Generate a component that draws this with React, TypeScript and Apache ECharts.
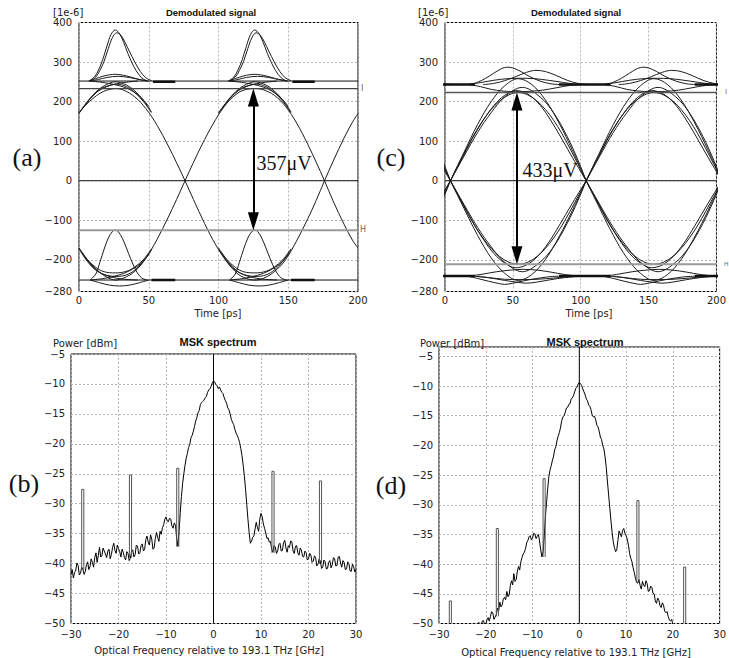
import React, { useEffect, useRef } from "react";
import * as echarts from "echarts";

type Pt = [number, number];

// ================= (a) Demodulated signal, eye diagram [1e-6 V] vs time [ps] =================
const A_SINE_1: Pt[] = [[0,172],[5,192],[10,208],[15,221],[20,229],[26,233],[32,229],[40,212],[48,182],[56,140],[64,88],[70,45],[76,0],[82,-47],[90,-108],[98,-162],[106,-205],[114,-236],[120,-247],[126,-251],[132,-247],[140,-230],[148,-200],[156,-152],[164,-96],[170,-50],[176,0],[182,48],[190,108],[196,148],[200,170]];
const A_SINE_2: Pt[] = [[0,-170],[5,-196],[10,-216],[15,-232],[20,-244],[26,-251],[32,-246],[40,-229],[48,-196],[56,-148],[64,-92],[70,-47],[76,0],[82,46],[90,104],[98,155],[106,196],[114,222],[120,231],[126,233],[132,230],[140,216],[148,188],[156,146],[164,92],[170,47],[176,0],[182,-50],[190,-110],[196,-150],[200,-170]];
// traces repeated in every 100 ps bit slot
const A_PULSE_HI_1: Pt[] = [[7,252],[11,262],[14,280],[17,306],[20,340],[23,370],[26,381],[29,372],[32,350],[35,322],[38,298],[41,278],[45,260],[49,252]];
const A_PULSE_HI_2: Pt[] = [[8,252],[12,262],[15,279],[18,302],[21,334],[24,362],[27,374],[30,368],[33,350],[36,328],[40,300],[44,276],[48,260],[52,253]];
const A_BUMP_HI_1: Pt[] = [[7,252],[12,258],[18,265],[26,269],[34,265],[41,258],[49,252]];
const A_BUMP_HI_2: Pt[] = [[8,252],[14,256],[20,261],[28,264],[36,261],[43,256],[50,252]];
const A_ARC_HI_1: Pt[] = [[0,170],[6,200],[12,224],[18,240],[26,250],[34,242],[40,227],[46,204],[52,174]];
const A_ARC_HI_2: Pt[] = [[2,180],[8,207],[14,228],[20,239],[27,244],[34,238],[40,223],[46,201],[52,172]];
const A_CROSS_HI_1: Pt[] = [[8,252],[18,248],[28,241],[36,231],[44,212],[50,188]];
const A_CROSS_HI_2: Pt[] = [[0,172],[6,199],[12,222],[20,238],[30,247],[42,252]];
const A_PULSE_LO: Pt[] = [[8,-251],[12,-236],[15,-206],[18,-173],[21,-145],[24,-128],[26,-125],[28,-128],[31,-145],[34,-170],[37,-197],[41,-228],[45,-246],[49,-251]];
const A_DIP_LO: Pt[] = [[8,-251],[15,-258],[22,-264],[29,-266],[36,-264],[43,-258],[50,-251]];
const A_ARC_LO_1: Pt[] = [[0,-170],[6,-199],[12,-219],[18,-230],[26,-233],[34,-229],[40,-218],[46,-200],[52,-172]];
const A_ARC_LO_2: Pt[] = [[2,-182],[8,-210],[14,-230],[20,-239],[27,-242],[34,-238],[40,-226],[46,-204],[52,-175]];
const A_CROSS_LO_1: Pt[] = [[8,-251],[18,-247],[28,-239],[36,-228],[44,-210],[50,-186]];
const A_CROSS_LO_2: Pt[] = [[0,-172],[6,-204],[12,-226],[20,-240],[30,-248],[42,-251]];
const A_DASH_HI: Pt[] = [[53,250],[69,250]];
const A_DASH_LO: Pt[] = [[52,-251],[69,-251]];
const A_SLOT_SHIFTS = [0, 100];
const A_LEVEL_HIGH = 252;
const A_LEVEL_I = 233;
const A_LEVEL_ZERO = 0;
const A_LEVEL_H = -125;
const A_LEVEL_LOW = -251;
const A_ARROW_T = 125;

// ================= (c) Demodulated signal, eye diagram =================
const C_ARC_P1: Pt[] = [[4,0],[10,42],[16,82],[22,120],[28,153],[34,180],[40,201],[47,217],[54,223],[61,217],[68,201],[74,180],[80,153],[86,120],[92,82],[98,42],[104,0]];
const C_ARC_P2: Pt[] = [[4,0],[12,52],[20,106],[28,152],[36,190],[44,216],[52,228],[60,221],[68,199],[76,163],[84,118],[94,58],[104,0]];
const C_ARC_P3: Pt[] = [[4,0],[14,72],[24,142],[34,200],[44,240],[54,258],[64,243],[74,204],[84,146],[94,76],[104,0]];
const C_ARC_P4: Pt[] = [[4,0],[14,62],[24,122],[34,172],[44,212],[57,236],[70,212],[80,172],[90,112],[98,52],[104,0]];
const C_ARC_N1: Pt[] = [[4,0],[10,-40],[16,-78],[22,-114],[28,-145],[34,-171],[40,-191],[47,-206],[54,-211],[61,-206],[68,-191],[74,-171],[80,-145],[86,-114],[92,-78],[98,-40],[104,0]];
const C_ARC_N2: Pt[] = [[4,0],[12,-50],[20,-102],[28,-147],[36,-184],[44,-208],[52,-220],[60,-213],[68,-192],[76,-158],[84,-114],[94,-56],[104,0]];
const C_ARC_N3: Pt[] = [[4,0],[14,-70],[24,-138],[34,-195],[44,-234],[54,-252],[64,-237],[74,-199],[84,-142],[94,-74],[104,0]];
const C_ARC_N4: Pt[] = [[4,0],[14,-60],[24,-118],[34,-167],[44,-206],[57,-230],[70,-206],[80,-167],[90,-108],[98,-50],[104,0]];
const C_HUMP_HI_1: Pt[] = [[18,243],[24,249],[30,259],[36,272],[42,284],[46,287],[50,285],[56,276],[62,264],[70,252],[78,245],[86,243]];
const C_HUMP_HI_2: Pt[] = [[28,243],[36,246],[44,253],[52,263],[60,274],[67,279],[74,276],[82,266],[90,254],[98,246],[106,243]];
const C_FLAT_HI: Pt[] = [[16,243],[26,248],[36,254],[46,258],[56,259],[66,258],[76,254],[86,249],[96,244]];
const C_DIP_HI: Pt[] = [[18,243],[26,238],[34,231],[42,227],[52,225],[62,226],[72,229],[82,235],[92,241],[100,243]];
const C_DIP_LO_1: Pt[] = [[16,-241],[24,-247],[32,-254],[40,-260],[44,-262],[50,-259],[58,-253],[66,-248],[76,-243],[86,-241]];
const C_DIP_LO_2: Pt[] = [[24,-241],[34,-246],[44,-252],[52,-256],[60,-259],[68,-256],[78,-250],[88,-245],[100,-241]];
const C_FLAT_LO: Pt[] = [[20,-241],[32,-245],[44,-249],[56,-250],[68,-249],[80,-246],[94,-241]];
const C_RISE_LO: Pt[] = [[18,-241],[28,-236],[38,-230],[48,-226],[58,-224],[68,-226],[78,-231],[88,-237],[98,-241]];
const C_LEVEL_SEG_HI: Pt[] = [[-16,243],[22,243]];
const C_LEVEL_SEG_LO: Pt[] = [[-16,-241],[22,-241]];
const C_SLOT_SHIFTS = [-100, 0, 100];
const C_SEG_SHIFTS = [0, 100, 200];
const C_LEVEL_I = 223;
const C_LEVEL_ZERO = 0;
const C_LEVEL_H = -211;
const C_ARROW_T = 53;

// ================= (b) MSK spectrum [dBm] vs frequency offset [GHz], 0.25 GHz bins =================
const B_FREQ_START = -30;
const B_FREQ_STEP = 0.25;
const B_POWER = [
  -41.8,-41.0,-42.4,-41.5,-41.1,-39.9,-40.3,-41.9,-41.6,-40.6,
  -40.9,-41.8,-41.3,-40.2,-39.7,-41.0,-40.5,-39.2,-39.8,-40.6,
  -39.0,-38.2,-39.8,-38.6,-37.3,-38.9,-38.7,-37.4,-37.9,-38.4,
  -39.0,-37.9,-37.6,-39.2,-38.5,-37.3,-36.6,-37.8,-38.3,-36.9,
  -37.5,-38.0,-38.9,-37.6,-38.1,-39.0,-39.4,-38.0,-38.3,-39.5,
  -39.1,-38.0,-37.7,-38.9,-38.5,-36.9,-37.1,-38.4,-38.2,-37.0,
  -36.7,-37.9,-37.6,-36.0,-35.4,-36.4,-36.9,-35.2,-35.9,-37.6,
  -37.4,-35.8,-34.8,-35.6,-36.3,-34.6,-35.1,-34.0,-33.5,-32.6,
  -32.2,-32.9,-33.0,-32.4,-32.6,-33.7,-34.1,-33.2,-33.6,-35.8,
  -37.1,-34.6,-31.5,-28.8,-26.6,-25.0,-23.6,-22.4,-21.6,-20.6,
  -20.1,-19.0,-18.6,-17.9,-17.1,-16.2,-15.6,-14.8,-14.4,-13.4,
  -13.1,-12.9,-12.7,-12.3,-12.1,-11.4,-11.0,-10.8,-10.4,-9.8,
  -9.5,-9.7,-10.1,-10.3,-10.8,-10.5,-11.0,-11.4,-11.6,-12.3,
  -12.8,-13.2,-14.0,-14.3,-15.0,-15.9,-16.4,-16.8,-17.6,-18.2,
  -18.6,-19.1,-19.8,-20.8,-22.0,-23.6,-25.4,-27.6,-30.1,-32.6,
  -34.8,-36.6,-36.3,-35.6,-35.4,-34.2,-33.1,-34.0,-34.6,-32.5,
  -31.6,-32.2,-33.4,-34.1,-34.9,-35.8,-35.7,-36.4,-36.3,-37.6,
  -38.1,-37.0,-37.2,-38.3,-37.9,-36.8,-36.6,-37.9,-37.8,-36.5,
  -36.1,-37.4,-38.1,-37.0,-37.3,-36.2,-36.4,-37.9,-38.3,-37.1,
  -37.0,-38.2,-38.6,-37.4,-37.7,-38.8,-38.9,-37.9,-38.2,-39.4,
  -39.2,-38.3,-38.6,-39.8,-39.6,-38.7,-39.0,-40.4,-40.1,-39.2,
  -39.6,-40.8,-40.6,-39.4,-39.7,-40.9,-40.8,-39.8,-39.5,-40.7,
  -40.2,-39.0,-39.2,-40.4,-40.3,-38.9,-38.8,-39.9,-40.6,-39.5,
  -39.8,-41.0,-40.9,-39.7,-40.0,-41.2,-41.3,-40.1,-40.5,-41.4,
  -41.0,
];
// tones: [left GHz, right GHz, top dBm, base dBm]
const B_TONES: [number, number, number, number][] = [
  [-27.75, -27.3, -27.6, -41.0],
  [-17.7, -17.25, -25.2, -39.0],
  [-7.75, -7.3, -24.1, -37.2],
  [12.3, 12.75, -24.6, -38.2],
  [22.3, 22.75, -26.2, -40.0],
];

// ================= (d) MSK spectrum, 0.25 GHz bins =================
const D_FREQ_START = -22;
const D_FREQ_STEP = 0.25;
const D_POWER = [
  -51.0,-50.4,-49.8,-50.5,-50.3,-49.6,-49.5,-50.2,-50.1,-49.4,
  -49.0,-49.6,-48.8,-48.0,-48.2,-49.3,-48.9,-48.5,-47.4,-47.9,
  -46.4,-47.2,-46.9,-45.9,-45.6,-46.0,-44.6,-45.5,-45.2,-43.6,
  -42.8,-43.5,-41.6,-42.9,-42.6,-41.2,-40.4,-41.0,-39.6,-38.9,
  -38.3,-38.0,-37.4,-36.4,-36.0,-35.4,-35.2,-35.9,-35.6,-34.8,
  -34.9,-35.7,-35.3,-35.0,-36.1,-37.6,-38.8,-37.9,-35.4,-32.0,
  -29.6,-27.2,-25.2,-24.1,-23.4,-22.5,-21.8,-20.7,-20.2,-19.1,
  -18.4,-17.8,-16.9,-15.8,-15.2,-15.0,-14.4,-13.7,-13.6,-13.1,
  -13.0,-12.2,-12.0,-11.6,-11.0,-10.4,-10.2,-9.7,-9.4,-9.6,
  -9.9,-10.5,-11.0,-11.5,-12.2,-12.5,-13.2,-13.4,-14.0,-14.9,
  -15.2,-15.1,-15.7,-16.6,-16.9,-17.6,-18.6,-19.0,-20.0,-20.6,
  -21.9,-23.6,-26.0,-28.2,-30.4,-32.6,-34.6,-36.2,-37.2,-37.9,
  -37.6,-36.0,-34.4,-34.9,-35.4,-34.3,-34.0,-34.8,-35.2,-35.8,
  -36.8,-38.2,-39.0,-39.6,-40.6,-41.4,-42.4,-43.1,-43.2,-42.6,
  -43.6,-44.2,-42.9,-43.5,-43.8,-42.8,-43.3,-44.6,-44.5,-43.7,
  -43.9,-44.9,-45.0,-46.2,-46.6,-45.7,-46.1,-47.0,-47.3,-46.5,
  -46.9,-47.9,-48.2,-48.0,-48.8,-49.4,-49.6,-49.3,-50.2,-50.8,
  -51.4,
];
const D_TONES: [number, number, number, number][] = [
  [-27.8, -27.35, -46.2, -50],
  [-17.75, -17.3, -34.0, -48.8],
  [-7.75, -7.3, -25.6, -38.8],
  [12.3, 12.75, -29.3, -43.0],
  [22.3, 22.75, -40.5, -50],
];

// axis ranges / ticks
const EYE_X_TICKS = { min: 0, max: 200, interval: 50 };
const EYE_Y_RANGE = { min: -280, max: 400 };
const SPEC_X_TICKS = { min: -30, max: 30, interval: 10 };
const SPEC_Y_B = { min: -50, max: -5, interval: 5 };
const SPEC_Y_D = { min: -50, max: -3.43, interval: 5 };

// ---------------- layout ----------------
const GRID_A = { left: 79, top: 22.5, width: 279, height: 269 };
const GRID_C = { left: 445, top: 22.5, width: 280, height: 269 };
const GRID_B = { left: 71, top: 354, width: 285, height: 269.5 };
const GRID_D = { left: 439, top: 347, width: 285, height: 276.5 };

const TRACE = "#1c1c1c";
const GRIDLINE = "#b5b5b5";
const SANS = "'DejaVu Sans', sans-serif";
const SERIF = "'Liberation Serif', 'DejaVu Serif', serif";

const minus = (v: number) => String(v).replace("-", "\u2212");

function shiftPts(pts: Pt[], dt: number): Pt[] {
  return pts.map(([t, v]) => [t + dt, v] as Pt);
}

function trace(g: number, data: Pt[], color = TRACE, width = 1, smooth: number | boolean = 0.35, z = 3) {
  return {
    type: "line",
    xAxisIndex: g,
    yAxisIndex: g,
    data,
    symbol: "none",
    smooth,
    silent: true,
    clip: true,
    z,
    lineStyle: { color, width },
  };
}

function xAxis(g: number, t: { min: number; max: number; interval: number }) {
  return {
    type: "value",
    gridIndex: g,
    min: t.min,
    max: t.max,
    interval: t.interval,
    axisLine: { show: false },
    axisTick: { show: false },
    axisLabel: {
      margin: g >= 2 ? 6 : 4,
      fontFamily: SANS,
      fontSize: 10,
      color: "#222",
      formatter: (v: number) => minus(v),
    },
    splitLine: { show: true, lineStyle: { color: GRIDLINE, type: [2, 2], width: 1 } },
  };
}

function yAxis(g: number, r: { min: number; max: number; interval?: number }, hideMax = false) {
  const ax: any = {
    type: "value",
    gridIndex: g,
    min: r.min,
    max: r.max,
    axisLine: { show: false },
    axisTick: { show: false },
    axisLabel: {
      margin: g >= 2 ? 6 : 7,
      fontFamily: SANS,
      fontSize: 10,
      color: "#222",
      showMaxLabel: !hideMax,
      formatter: (v: number) => minus(v),
    },
    splitLine: { show: true, lineStyle: { color: GRIDLINE, type: [2, 2], width: 1 } },
  };
  if (r.interval !== undefined) ax.interval = r.interval;
  return ax;
}

function hline(g: number, v: number, x0: number, x1: number, color: string, width: number) {
  return trace(g, [[x0, v], [x1, v]], color, width, false, 4);
}

function arrowSeries(g: number, t: number, top: number, bottom: number, grid: { height: number }) {
  const unitsPerPx = (EYE_Y_RANGE.max - EYE_Y_RANGE.min) / grid.height;
  const half = 9 * unitsPerPx;
  return {
    type: "line",
    xAxisIndex: g,
    yAxisIndex: g,
    data: [],
    symbol: "none",
    silent: true,
    z: 6,
    markLine: {
      silent: true,
      animation: false,
      symbol: ["triangle", "triangle"],
      symbolSize: [11, 18],
      lineStyle: { color: "#000", width: 2, type: "solid" },
      label: { show: false },
      data: [[{ coord: [t, top - half] }, { coord: [t, bottom + half] }]],
    },
  };
}

function spectrumPoints(start: number, step: number, p: number[]): Pt[] {
  return p.map((v, i) => [start + i * step, v] as Pt);
}

function toneSeries(g: number, tones: [number, number, number, number][]) {
  return tones.map(([x0, x1, top, base]) =>
    trace(g, [[x0, base], [x0, top], [x1, top], [x1, base]], "#555", 1, false, 5)
  );
}

function buildOption() {
  const series: any[] = [];

  // ---- (a) grid 0 ----
  series.push(trace(0, A_SINE_1));
  series.push(trace(0, A_SINE_2));
  const aSlot = [A_PULSE_HI_1, A_PULSE_HI_2, A_BUMP_HI_1, A_BUMP_HI_2, A_ARC_HI_1, A_ARC_HI_2, A_CROSS_HI_1, A_CROSS_HI_2,
    A_PULSE_LO, A_DIP_LO, A_ARC_LO_1, A_ARC_LO_2, A_CROSS_LO_1, A_CROSS_LO_2];
  A_SLOT_SHIFTS.forEach((s) => {
    aSlot.forEach((tr) => series.push(trace(0, shiftPts(tr, s))));
    series.push(trace(0, shiftPts(A_DASH_HI, s), "#111", 2.5, false, 4));
    series.push(trace(0, shiftPts(A_DASH_LO, s), "#111", 2.5, false, 4));
  });
  series.push(hline(0, A_LEVEL_HIGH, 0, 200, "#111", 1));
  series.push(hline(0, A_LEVEL_I, 0, 200, "#444", 1.3));
  series.push(hline(0, A_LEVEL_ZERO, 0, 200, "#111", 1));
  series.push(hline(0, A_LEVEL_H, 0, 200, "#9a9a9a", 2));
  series.push(hline(0, A_LEVEL_LOW, 0, 200, "#111", 1));
  series.push(arrowSeries(0, A_ARROW_T, A_LEVEL_I, A_LEVEL_H, GRID_A));

  // ---- (c) grid 1 ----
  const cSlot = [C_ARC_P1, C_ARC_P2, C_ARC_P3, C_ARC_P4, C_ARC_N1, C_ARC_N2, C_ARC_N3, C_ARC_N4,
    C_HUMP_HI_1, C_HUMP_HI_2, C_FLAT_HI, C_DIP_HI, C_DIP_LO_1, C_DIP_LO_2, C_FLAT_LO, C_RISE_LO];
  C_SLOT_SHIFTS.forEach((s) => {
    cSlot.forEach((tr) => series.push(trace(1, shiftPts(tr, s))));
  });
  C_SEG_SHIFTS.forEach((s) => {
    series.push(trace(1, shiftPts(C_LEVEL_SEG_HI, s), "#111", 2.5, false, 4));
    series.push(trace(1, shiftPts(C_LEVEL_SEG_LO, s), "#111", 2.5, false, 4));
  });
  series.push(hline(1, C_LEVEL_I, 0, 200, "#555", 1.3));
  series.push(hline(1, C_LEVEL_ZERO, 0, 200, "#111", 1));
  series.push(hline(1, C_LEVEL_H, 0, 200, "#9a9a9a", 2));
  series.push(arrowSeries(1, C_ARROW_T, C_LEVEL_I, C_LEVEL_H, GRID_C));

  // ---- (b) grid 2 ----
  series.push(trace(2, [[0, SPEC_Y_B.min], [0, SPEC_Y_B.max]], "#000", 1, false, 2));
  series.push(trace(2, spectrumPoints(B_FREQ_START, B_FREQ_STEP, B_POWER), "#000", 1, false, 3));
  toneSeries(2, B_TONES).forEach((s) => series.push(s));

  // ---- (d) grid 3 ----
  series.push(trace(3, [[0, SPEC_Y_D.min], [0, SPEC_Y_D.max]], "#000", 1, false, 2));
  series.push(trace(3, spectrumPoints(D_FREQ_START, D_FREQ_STEP, D_POWER), "#000", 1, false, 3));
  toneSeries(3, D_TONES).forEach((s) => series.push(s));

  const txt = (text: string, x: number, y: number, font: string, align = "center", fill = "#111") => ({
    type: "text",
    x,
    y,
    z: 100,
    silent: true,
    style: { text, font, fill, align, verticalAlign: "middle" },
  });

  const graphic = [
    txt("(a)", 27, 157, `26px ${SERIF}`),
    txt("(c)", 391, 157, `26px ${SERIF}`),
    txt("(b)", 24, 483, `26px ${SERIF}`),
    txt("(d)", 391, 485, `26px ${SERIF}`),
    txt("357\u03bcV", 284, 163, `20px ${SERIF}`),
    txt("433\u03bcV", 550, 170, `20px ${SERIF}`),
    txt("Demodulated signal", 211, 12, `bold 9.5px 'Liberation Sans', sans-serif`),
    txt("Demodulated signal", 576, 12, `bold 9.5px 'Liberation Sans', sans-serif`),
    txt("[1e-6]", 53, 12, `10px ${SANS}`, "left", "#222"),
    txt("[1e-6]", 418, 12, `10px ${SANS}`, "left", "#222"),
    txt("Time [ps]", 218, 313, `10px ${SANS}`, "center", "#222"),
    txt("Time [ps]", 589, 313, `10px ${SANS}`, "center", "#222"),
    txt("MSK spectrum", 218, 342, `bold 11px 'Liberation Sans', sans-serif`),
    txt("MSK spectrum", 585, 342, `bold 11px 'Liberation Sans', sans-serif`),
    txt("Power [dBm]", 53, 343, `10px ${SANS}`, "left", "#222"),
    txt("Power [dBm]", 420, 343, `10px ${SANS}`, "left", "#222"),
    txt("Optical Frequency relative to 193.1 THz [GHz]", 209, 650, `10px ${SANS}`, "center", "#222"),
    txt("Optical Frequency relative to 193.1 THz [GHz]", 576, 652, `10px ${SANS}`, "center", "#222"),
    txt("I", 361, 88, `8px ${SANS}`, "left", "#666"),
    txt("H", 360, 229, `8px ${SANS}`, "left", "#666"),
    txt("I", 725, 92, `7px ${SANS}`, "left", "#666"),
    txt("H", 724, 263, `6px ${SANS}`, "left", "#666"),
  ];

  const gridStyle = { show: true, borderColor: "#000", borderWidth: 1, backgroundColor: "transparent", containLabel: false };

  return {
    animation: false,
    backgroundColor: "#ffffff",
    grid: [
      { ...gridStyle, ...GRID_A },
      { ...gridStyle, ...GRID_C },
      { ...gridStyle, ...GRID_B },
      { ...gridStyle, ...GRID_D },
    ],
    xAxis: [xAxis(0, EYE_X_TICKS), xAxis(1, EYE_X_TICKS), xAxis(2, SPEC_X_TICKS), xAxis(3, SPEC_X_TICKS)],
    yAxis: [yAxis(0, EYE_Y_RANGE), yAxis(1, EYE_Y_RANGE), yAxis(2, SPEC_Y_B), yAxis(3, SPEC_Y_D, true)],
    series,
    graphic,
  };
}

export default function App() {
  const ref = useRef<HTMLDivElement>(null);
  useEffect(() => {
    if (!ref.current) return;
    const chart = echarts.init(ref.current, null, { renderer: "svg", width: 729, height: 658 });
    chart.setOption(buildOption() as any);
    return () => chart.dispose();
  }, []);
  return (
    <div
      ref={ref}
      style={{ position: "fixed", left: 0, top: 0, width: 729, height: 658, background: "#fff" }}
    />
  );
}
